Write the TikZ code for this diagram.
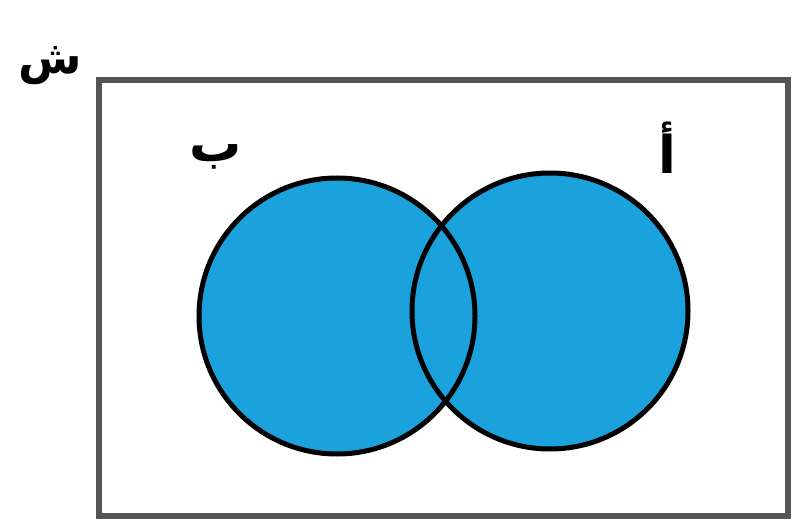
\documentclass[tikz,border=0pt]{standalone}
\usepackage{fontspec}
\newfontfamily\arabicfont[Script=Arabic]{DejaVu Sans}
\TeXXeTstate=1
\usepackage{tikz}
\usetikzlibrary{positioning}
\definecolor{vennblue}{RGB}{27,161,219}
\definecolor{framegray}{RGB}{85,85,85}
\tikzset{
  setfill/.style={circle,fill=vennblue,minimum size=276pt,inner sep=0pt},
  setline/.style={draw=black,line width=5pt},
  framebox/.style={draw=framegray,line width=6pt},
  setlabel/.style={font=\arabicfont\bfseries\fontsize{52}{60}\selectfont,inner sep=0pt},
}
\begin{document}
\begin{tikzpicture}[x=1pt,y=-1pt]
\useasboundingbox (0,0) rectangle (811,529);

% -- universal set ---------------------------------------------------------
\coordinate (ul) at (99,80);
\coordinate (lr) at (788,516);
\draw[framebox] (ul) rectangle (lr);
\node[setlabel,font=\arabicfont\bfseries\fontsize{46}{54}\selectfont] (lblsh) at (50,66) {\beginR ش\endR};

% -- the two sets ----------------------------------------------------------
\node[setfill] (setb) at (337,316) {};
\node[setfill] (seta) at (550,311) {};
\draw[setline] (setb) circle[radius=138pt];
\draw[setline] (seta) circle[radius=138pt];

\node[setlabel] (lblb) at (216,157) {\beginR ب\endR};
\node[setlabel] (lbla) at (667,148) {\beginR أ\endR};

\end{tikzpicture}
\end{document}
